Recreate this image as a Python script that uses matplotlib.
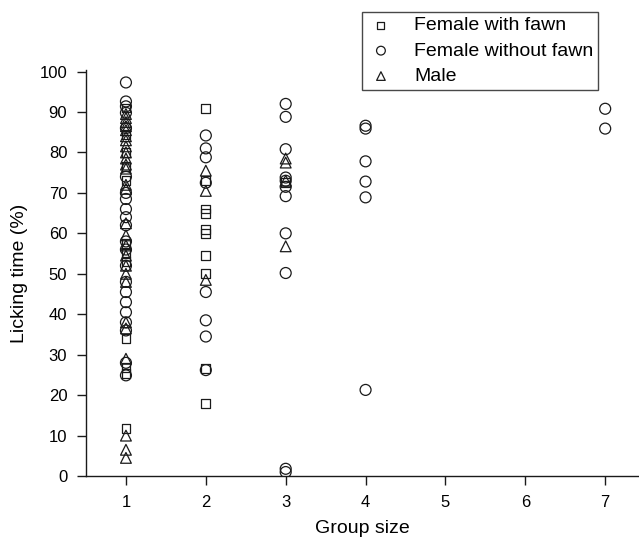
import matplotlib
matplotlib.use("Agg")
import matplotlib.pyplot as plt

plt.rcParams['font.family'] = ['Liberation Sans', 'DejaVu Sans']

# Female with fawn (squares)
fwf_x = [1]*12 + [2]*10 + [3]
fwf_y = [91, 84.5, 80, 76.5, 73, 57.5, 55, 53, 34, 26.9, 25.3, 11.8,
         90.8, 73, 66, 65, 61, 60, 54.5, 50, 26.5, 18,
         72.5]

# Female without fawn (circles)
fwo_x = [1]*22 + [2]*8 + [3]*11 + [4]*6 + [7]*2
fwo_y = [97.3, 92.6, 91.4, 89.8, 86, 74, 70, 68.5, 66, 64, 62, 58, 56, 52, 48,
         45.5, 43, 40.5, 38, 36, 28, 24.9,
         84.2, 81, 78.8, 72.5, 45.5, 38.5, 34.5, 26.2,
         92, 88.8, 80.8, 73.8, 73, 71.5, 69.2, 60, 50.2, 1.8, 1.0,
         86.6, 85.9, 77.8, 72.8, 68.9, 21.3,
         90.8, 85.9]

# Male (triangles)
male_x = [1]*27 + [2]*3 + [3]*4
male_y = [89.5, 88.5, 87.5, 86.5, 85.5, 84, 83, 81.5, 80, 78.5, 77, 76, 72, 71,
          62.5, 59.5, 57, 54.5, 52, 50, 48, 38, 36.5, 29, 10, 6.5, 4.5,
          75.5, 70.5, 48.5,
          78.5, 77.5, 73, 56.8]

x_ticks = [1, 2, 3, 4, 5, 6, 7]
y_ticks = [0, 10, 20, 30, 40, 50, 60, 70, 80, 90, 100]

fig = plt.figure(figsize=(6.39, 5.41), dpi=100)
ax = fig.add_axes([0.1346, 0.120, 0.865, 0.750])

kw = dict(facecolor='none', edgecolor='#1a1a1a', linewidths=0.9, zorder=3)
h1 = ax.scatter(fwf_x, fwf_y, marker='s', s=40, label='Female with fawn', **kw)
h2 = ax.scatter(fwo_x, fwo_y, marker='o', s=62, label='Female without fawn', **kw)
h3 = ax.scatter(male_x, male_y, marker='^', s=60, label='Male', **kw)

ax.set_xlim(0.5, 7.42)
ax.set_ylim(0, 100.3)
ax.set_xticks(x_ticks)
ax.set_yticks(y_ticks)
ax.spines['top'].set_visible(False)
ax.spines['right'].set_visible(False)
for sp in ('left', 'bottom'):
    ax.spines[sp].set_linewidth(1.0)
    ax.spines[sp].set_color('#1a1a1a')
ax.tick_params(direction='out', length=6.5, width=1.0, labelsize=12,
               pad=7, color='#1a1a1a')
ax.set_xlabel('Group size', fontsize=14, labelpad=7)
ax.set_ylabel('Licking time (%)', fontsize=14, labelpad=8)

leg = fig.legend(handles=[h1, h2, h3], loc='upper right',
                 bbox_to_anchor=(0.936, 0.978), fontsize=14,
                 frameon=True, fancybox=False, edgecolor='#1a1a1a',
                 markerscale=0.8, handletextpad=1.0, borderpad=0.25,
                 labelspacing=0.4, handlelength=1.4, borderaxespad=0)
leg.get_frame().set_linewidth(1.0)

fig.savefig('out.png', dpi=100)
